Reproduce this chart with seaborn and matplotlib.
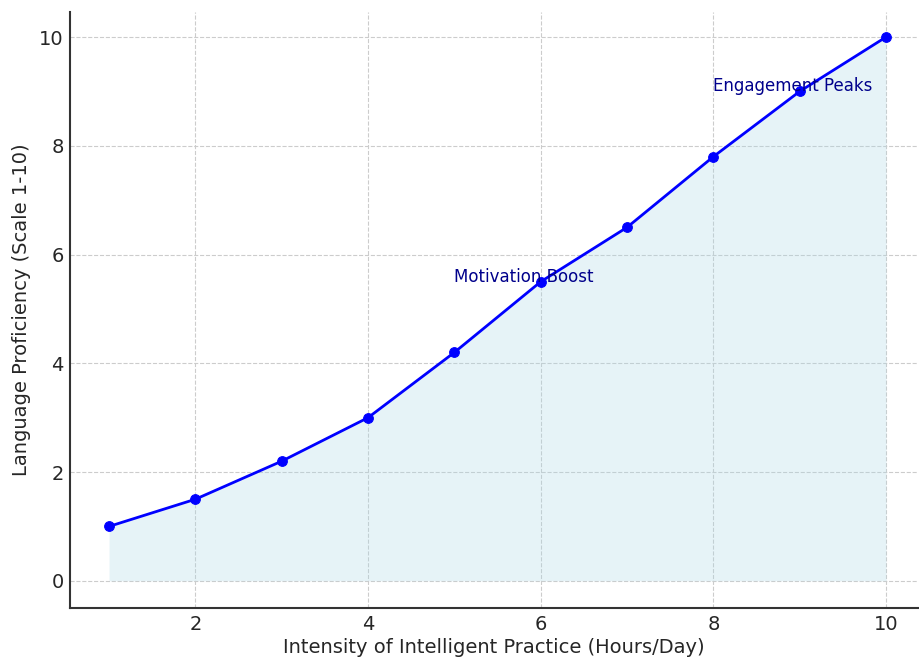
import matplotlib
matplotlib.use("Agg")
import matplotlib.pyplot as plt
import seaborn as sns
import pandas as pd

hours = [1, 2, 3, 4, 5, 6, 7, 8, 9, 10]
proficiency = [1.0, 1.5, 2.2, 3.0, 4.2, 5.5, 6.5, 7.8, 9.0, 10.0]
annotations = [(5, 5.5, "Motivation Boost"), (8, 9.0, "Engagement Peaks")]

df = pd.DataFrame({"hours": hours, "proficiency": proficiency})

sns.set_style("white")
plt.rcParams["font.family"] = ["DejaVu Sans"]

fig = plt.figure(figsize=(9.19, 6.6), dpi=100)
ax = fig.add_axes([70/919, 52/660, 848/919, 596/660])

ax.fill_between(df["hours"], df["proficiency"], color="lightblue", alpha=0.3, linewidth=0)
sns.lineplot(data=df, x="hours", y="proficiency", ax=ax, color="blue", linewidth=2,
             marker="o", markersize=7, markeredgecolor="blue")

for x, y, t in annotations:
    ax.text(x, y, t, color="darkblue", fontsize=12)

ax.set_xlim(0.548, 10.37)
ax.set_ylim(-0.5, 10.46)
ax.set_xticks([2, 4, 6, 8, 10])
ax.set_yticks([0, 2, 4, 6, 8, 10])
ax.grid(True, linestyle="--", color="#cccccc", linewidth=0.8)
ax.set_axisbelow(True)

ax.set_xlabel("Intensity of Intelligent Practice (Hours/Day)", fontsize=14, color="#262626", labelpad=3)
ax.set_ylabel("Language Proficiency (Scale 1-10)", fontsize=14, color="#262626", labelpad=6)
ax.tick_params(axis="both", direction="in", length=5, width=1.2, colors="#333333",
               labelsize=14, labelcolor="#262626")
ax.tick_params(axis="x", pad=5)
ax.tick_params(axis="y", pad=4.5)
for s in ["top", "right"]:
    ax.spines[s].set_visible(False)
for s in ["left", "bottom"]:
    ax.spines[s].set_color("#333333")
    ax.spines[s].set_linewidth(1.5)

fig.savefig("out.png", dpi=100)
